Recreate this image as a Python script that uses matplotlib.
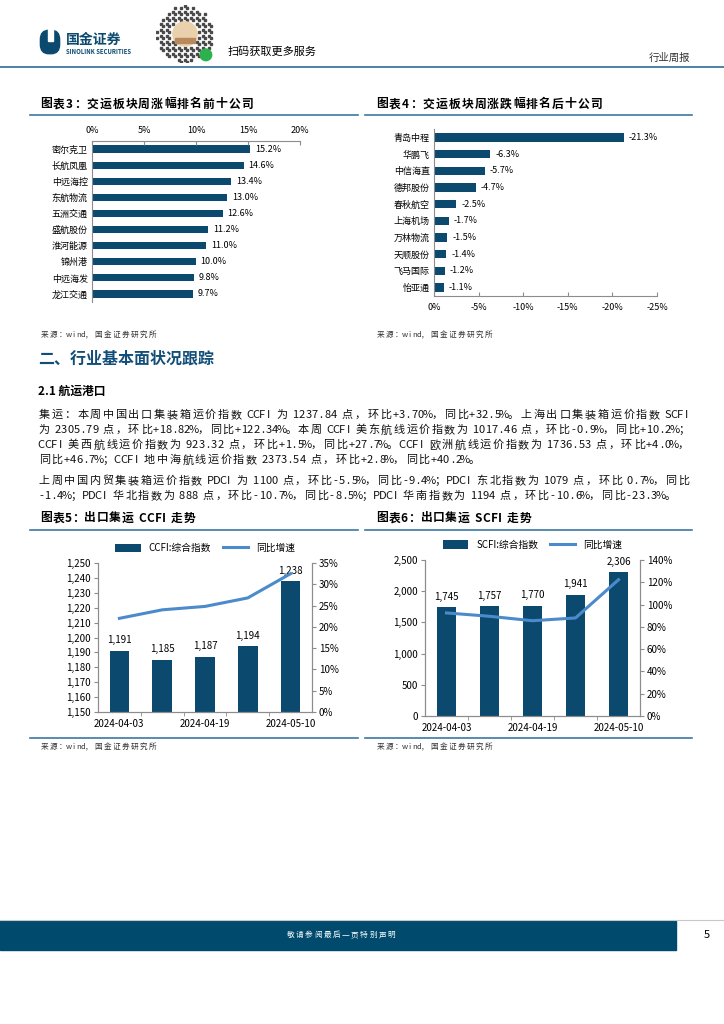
import matplotlib
matplotlib.use("Agg")
import matplotlib.pyplot as plt
from matplotlib.patches import Rectangle, Circle, FancyBboxPatch
from matplotlib.lines import Line2D
from matplotlib.font_manager import FontProperties
from matplotlib.ticker import FuncFormatter, MultipleLocator, FixedLocator

plt.rcParams["font.family"] = ["Noto Sans CJK SC", "DejaVu Sans"]

# Chart 3: top ten weekly gainers
top_names = ["密尔克卫", "长航凤凰", "中远海控", "东航物流", "五洲交通",
             "盛航股份", "淮河能源", "锦州港", "中远海发", "龙江交通"]
top_values = [15.2, 14.6, 13.4, 13.0, 12.6, 11.2, 11.0, 10.0, 9.8, 9.7]

# Chart 4: bottom ten weekly performers
bottom_names = ["青岛中程", "华鹏飞", "中信海直", "德邦股份", "春秋航空",
                "上海机场", "万林物流", "天顺股份", "飞马国际", "怡亚通"]
bottom_values = [-21.3, -6.3, -5.7, -4.7, -2.5, -1.7, -1.5, -1.4, -1.2, -1.1]

# Charts 5 and 6: CCFI / SCFI composite index and yoy growth
dates = ["2024-04-03", "2024-04-12", "2024-04-19", "2024-04-26", "2024-05-10"]
ccfi = [1191, 1185, 1187, 1194, 1237.84]
ccfi_yoy = [22.0, 24.0, 24.8, 26.8, 32.5]
scfi = [1745, 1757, 1770, 1941, 2305.79]
scfi_yoy = [92.5, 89.5, 85.5, 88.0, 122.3]

paragraph_lines = [
    "集运：本周中国出口集装箱运价指数 CCFI 为 1237.84 点，环比+3.70%，同比+32.5%。上海出口集装箱运价指数 SCFI",
    "为 2305.79 点，环比+18.82%，同比+122.34%。本周 CCFI 美东航线运价指数为 1017.46 点，环比-0.9%，同比+10.2%；",
    "CCFI 美西航线运价指数为 923.32 点，环比+1.5%，同比+27.7%。CCFI 欧洲航线运价指数为 1736.53 点，环比+4.0%，",
    "同比+46.7%；CCFI 地中海航线运价指数 2373.54 点，环比+2.8%，同比+40.2%。",
    "上周中国内贸集装箱运价指数 PDCI 为 1100 点，环比-5.5%，同比-9.4%；PDCI 东北指数为 1079 点，环比 0.7%，同比",
    "-1.4%；PDCI 华北指数为 888 点，环比-10.7%，同比-8.5%；PDCI 华南指数为 1194 点，环比-10.6%，同比-23.3%。",
]
paragraph_y = [415, 430, 445, 460, 481, 496]
paragraph_full = [True, True, True, False, True, False]

W, H = 724, 1024
NAVY = "#0b4a6e"
LINE_BLUE = "#4b8bcb"
RULE = "#3b79a3"
SPINE = "#8c8c8c"
SOURCE = "来源：wind，国金证券研究所"
PUNCT = "，。；：、"

fig = plt.figure(figsize=(W / 100, H / 100), dpi=100)
renderer = fig.canvas.get_renderer()


def box(x, y, w, h):
    return fig.add_axes([x / W, 1 - (y + h) / H, w / W, h / H])


def put(x, y, s, **kw):
    return fig.text(x / W, 1 - y / H, s, **kw)


def hline(x0, x1, y, color=RULE, lw=1.2):
    fig.add_artist(Line2D([x0 / W, x1 / W], [1 - y / H, 1 - y / H],
                          color=color, lw=lw))


def tracked(x, y, s, size, width=None, track=0.0, weight="normal", color="black"):
    # draw text char by char so letter spacing can be widened
    fp = FontProperties(family=plt.rcParams["font.family"], size=size, weight=weight)
    space = 0.32 * size * 100 / 72
    widths = []
    for c in s:
        if c == " ":
            widths.append(space)
        else:
            widths.append(renderer.get_text_width_height_descent(c, fp, ismath=False)[0])
    if width is not None:
        track = (width - sum(widths)) / (len(s) - 1)
    cx = x
    for c, w in zip(s, widths):
        if c != " ":
            put(cx, y, c, fontsize=size, fontweight=weight, color=color, va="center")
        cx += w + track
    return cx


def mono(x, y, s, size, width=None, pitch=None, color="black"):
    # CJK typesetting: full cells for Chinese, half cells for ASCII, narrow spaces
    units = [0.3 if c == " " else 0.5 if ord(c) < 128 else 1.0 for c in s]
    if width is not None:
        pitch = width / sum(units)
    cx = x
    for c, u in zip(s, units):
        if c in PUNCT:
            put(cx + 0.05 * pitch, y, c, fontsize=size, color=color, ha="left", va="center")
        elif c != " ":
            put(cx + u * pitch / 2, y, c, fontsize=size, color=color, ha="center", va="center")
        cx += u * pitch
    return pitch


# Header: logo, QR code, label
logo = box(38, 29, 24, 26)
logo.set_xlim(0, 1)
logo.set_ylim(0, 1)
logo.axis("off")
logo.add_patch(FancyBboxPatch((0.1, 0.05), 0.8, 0.9, boxstyle="round,pad=0,rounding_size=0.35",
                              color=NAVY))
logo.add_patch(Rectangle((0.42, 0.55), 0.2, 0.45, color="white"))
put(66, 40, "国金证券", fontsize=10, fontweight="bold", color=NAVY, va="center")
put(66, 51, "SINOLINK SECURITIES", fontsize=4.3, fontweight="bold", color=NAVY, va="center")

qr = box(156, 5, 58, 58)
qr.set_xlim(-1, 1)
qr.set_ylim(-1, 1)
qr.set_aspect("equal")
qr.axis("off")
n = 29
for i in range(n):
    for j in range(n):
        cx = -1 + (i + 0.5) * 2 / n
        cy = -1 + (j + 0.5) * 2 / n
        r = (cx ** 2 + cy ** 2) ** 0.5
        if 0.45 < r < 0.98 and (i * 7 + j * 11 + i * j) % 3 == 0:
            qr.add_patch(Rectangle((cx - 0.03, cy - 0.03), 0.06, 0.06, color="#4a4a4a"))
qr.add_patch(Circle((0, 0), 0.42, color="#ead0ad"))
qr.add_patch(Rectangle((-0.34, -0.3), 0.68, 0.16, color="#b8895c"))
qr.add_patch(Circle((0.72, -0.72), 0.2, color="#2bb24c"))
put(228, 52, "扫码获取更多服务", fontsize=8, va="center")
put(690, 58, "行业周报", fontsize=7.5, ha="right", va="center", color="#333333")
hline(0, W, 67, lw=1.3)

# Chart titles row 1
tracked(40, 104, "图表3：交运板块周涨幅排名前十公司", 8.5, width=213, weight="bold")
tracked(376, 104, "图表4：交运板块周涨跌幅排名后十公司", 8.5, width=226, weight="bold")
hline(30, 358, 115)
hline(365, 692, 115)

# Chart 3
ax3 = box(92, 141, 208, 161)
ypos = list(range(len(top_names)))
ax3.barh(ypos, top_values, height=0.45, color=NAVY)
ax3.set_xlim(0, 20)
ax3.set_ylim(9.5, -0.5)
ax3.xaxis.tick_top()
ax3.set_xticks([0, 5, 10, 15, 20])
ax3.xaxis.set_major_formatter(FuncFormatter(lambda v, p: f"{v:.0f}%"))
ax3.set_yticks(ypos)
ax3.set_yticklabels(top_names)
ax3.tick_params(axis="x", direction="in", length=3, pad=4, labelsize=6.5, color=SPINE)
ax3.tick_params(axis="y", length=0, pad=3, labelsize=6.5)
for s in ["right", "bottom"]:
    ax3.spines[s].set_visible(False)
for s in ["top", "left"]:
    ax3.spines[s].set_color(SPINE)
    ax3.spines[s].set_linewidth(0.8)
for yp, v in zip(ypos, top_values):
    ax3.text(v + 0.45, yp, f"{v:.1f}%", va="center", ha="left", fontsize=6.5)

# Chart 4
ax4 = box(434, 129, 223, 167)
ypos = list(range(len(bottom_names)))
ax4.barh(ypos, bottom_values, height=0.5, color=NAVY)
ax4.set_xlim(0, -25)
ax4.set_ylim(9.5, -0.5)
ax4.set_xticks([0, -5, -10, -15, -20, -25])
ax4.xaxis.set_major_formatter(FuncFormatter(lambda v, p: f"{v:.0f}%"))
ax4.set_yticks(ypos)
ax4.set_yticklabels(bottom_names)
ax4.tick_params(axis="x", direction="in", length=3, pad=5, labelsize=6.5, color=SPINE)
ax4.tick_params(axis="y", length=0, pad=3, labelsize=6.5)
for s in ["right", "top"]:
    ax4.spines[s].set_visible(False)
for s in ["bottom", "left"]:
    ax4.spines[s].set_color(SPINE)
    ax4.spines[s].set_linewidth(0.8)
for yp, v in zip(ypos, bottom_values):
    ax4.text(v - 0.55, yp, f"{v:.1f}%", va="center", ha="left", fontsize=6.5)

mono(40, 335, SOURCE, 5.5, width=117, color="#333333")
mono(376, 335, SOURCE, 5.5, width=117, color="#333333")

# Section text
put(38, 359, "二、行业基本面状况跟踪", fontsize=11.5, fontweight="bold", color="#124e78", va="center")
put(38, 391, "2.1 航运港口", fontsize=8.5, fontweight="bold", va="center")

para_size = 8.0
pitches = []
for s, y, full in zip(paragraph_lines, paragraph_y, paragraph_full):
    if full:
        pitches.append(mono(38, y, s, para_size, width=690 - 38, color="#111111"))
mean_pitch = sum(pitches) / len(pitches)
for s, y, full in zip(paragraph_lines, paragraph_y, paragraph_full):
    if not full:
        mono(38, y, s, para_size, pitch=mean_pitch, color="#111111")

# Chart titles row 2
tracked(40, 518, "图表5：出口集运 CCFI 走势", 8.5, width=155, weight="bold")
tracked(376, 518, "图表6：出口集运 SCFI 走势", 8.5, width=155, weight="bold")
hline(30, 358, 530)
hline(365, 692, 530)


def index_chart(ax, values, yoy, ylim, ystep, y2lim, y2step, label):
    xs = list(range(len(values)))
    bars = ax.bar(xs, values, width=0.46, color=NAVY, label=label, zorder=2)
    ax.set_xlim(-0.5, len(values) - 0.5)
    ax.set_ylim(*ylim)
    ax.yaxis.set_major_locator(MultipleLocator(ystep))
    ax.yaxis.set_major_formatter(FuncFormatter(lambda v, p: f"{v:,.0f}"))
    ax.set_xticks([0, 2, 4])
    ax.set_xticklabels([dates[0], dates[2], dates[4]])
    ax.xaxis.set_minor_locator(FixedLocator([0.5, 1.5, 2.5, 3.5]))
    ax.tick_params(axis="x", which="major", length=0, pad=5, labelsize=7)
    ax.tick_params(axis="x", which="minor", length=3, color=SPINE)
    ax.tick_params(axis="y", length=3, pad=2, labelsize=7, color=SPINE)
    ax.spines["top"].set_visible(False)
    for s in ["left", "bottom", "right"]:
        ax.spines[s].set_color(SPINE)
        ax.spines[s].set_linewidth(0.8)
    for x, v in zip(xs, values):
        ax.annotate(f"{v:,.0f}", (x, v), xytext=(0, 4), textcoords="offset points",
                    ha="center", va="bottom", fontsize=7)
    ax2 = ax.twinx()
    line, = ax2.plot(xs, yoy, color=LINE_BLUE, lw=2.2, label="同比增速", zorder=3)
    ax2.set_ylim(*y2lim)
    ax2.yaxis.set_major_locator(MultipleLocator(y2step))
    ax2.yaxis.set_major_formatter(FuncFormatter(lambda v, p: f"{v:.0f}%"))
    ax2.tick_params(axis="y", length=3, pad=2, labelsize=7, color=SPINE)
    ax2.spines["top"].set_visible(False)
    for s in ["left", "bottom", "right"]:
        ax2.spines[s].set_color(SPINE)
        ax2.spines[s].set_linewidth(0.8)
    ax.legend([bars, line], [label, "同比增速"], loc="lower center",
              bbox_to_anchor=(0.5, 1.04), ncol=2, frameon=False, fontsize=7,
              handlelength=2.6, handleheight=0.9, columnspacing=1.2, borderaxespad=0)


ax5 = box(98, 563, 214, 149)
index_chart(ax5, ccfi, ccfi_yoy, (1150, 1250), 10, (0, 35), 5, "CCFI:综合指数")

ax6 = box(425, 560, 215, 156)
index_chart(ax6, scfi, scfi_yoy, (0, 2500), 500, (0, 140), 20, "SCFI:综合指数")

hline(30, 358, 738)
hline(365, 692, 738)
mono(40, 747, SOURCE, 5.5, width=117, color="#333333")
mono(376, 747, SOURCE, 5.5, width=117, color="#333333")

# Footer
hline(0, W, 920, color="#c8c8c8", lw=0.8)
fig.add_artist(Rectangle((0, 1 - 950 / H), 676 / W, 29 / H, color="#004a6e",
                         transform=fig.transFigure))
mono(286, 935, "敬请参阅最后一页特别声明", 5.5, width=110, color="white")
put(707, 935, "5", fontsize=8, ha="center", va="center")

fig.savefig("out.png", dpi=100)
